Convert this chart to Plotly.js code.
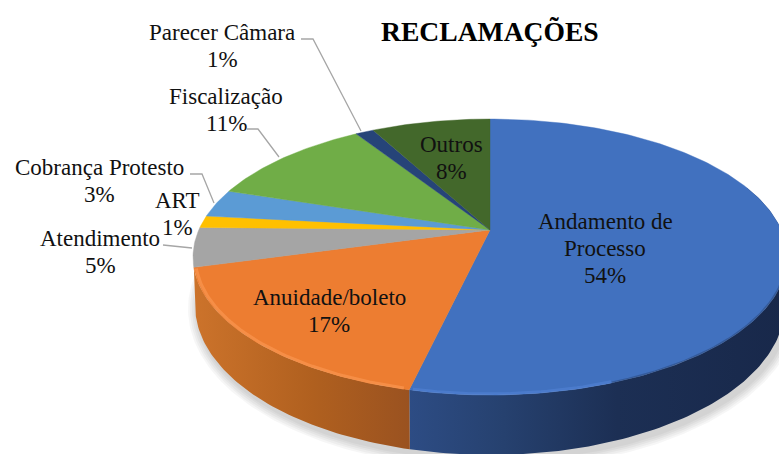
<!DOCTYPE html>
<html><head><meta charset="utf-8">
<script src="https://cdn.plot.ly/plotly-3.0.1.min.js"></script>
<style>html,body{margin:0;padding:0;background:#fff}#c{width:779px;height:454px}</style>
</head><body><div id="c"></div>
<script>
const categories = ["Andamento de|Processo","Anuidade/boleto","Atendimento","ART","Cobrança Protesto","Fiscalização","Parecer Câmara","Outros"];
const values = [53.6,17.1,4.6,1.4,3.3,11,1.2,7.8];
const topColors = ["#4171BF","#ED7D31","#A5A5A5","#FFC000","#5B9BD5","#70AD47","#264478","#43682B"];
const labelX = [605,329,100,177,99,226,222,451];
const labelY = [248,311,252,214,181,110,46,158];

// Perspective geometry of the tilted disc, in pixels of the axes
const G = {cx:490, cy:257, rx:297, ry:138, c:0.196, lowCy:305, lowRx:295, lowRy:150};
const total = values.reduce((a,b)=>a+b,0);
function norm(deg){
  const t=deg*Math.PI/180, u=Math.sin(t), v=Math.cos(t), d=1+G.c*v;
  return [Math.sqrt(1-G.c*G.c)*u/d,(v+G.c)/d];
}
const rim=(deg,s=1)=>{const p=norm(deg);return [G.cx+G.rx*s*p[0],G.cy-G.ry*s*p[1]];};
const low=(deg)=>{const p=norm(deg);return [G.cx+G.lowRx*p[0],G.lowCy-G.lowRy*p[1]];};
const hub=[G.cx,G.cy-G.ry*G.c];
function arc(a,b,f){const o=[];const n=Math.max(2,Math.ceil(Math.abs(b-a)));for(let i=0;i<=n;i++)o.push(f(a+(b-a)*i/n));return o;}
const base={type:'scatter',mode:'lines',hoverinfo:'skip',showlegend:false};
function poly(pts,extra){return Object.assign({},base,{x:pts.map(p=>p[0]),y:pts.map(p=>p[1]),fill:'toself',line:{width:0}},extra);}
const traces=[];
// soft shadow
for(let i=5;i>=1;i--){
  const pts=arc(0,360,d=>{const t=d*Math.PI/180;return [G.cx+3+(G.lowRx+i*2)*Math.sin(t),G.lowCy+4+(G.lowRy+i*2)*Math.cos(t)];});
  traces.push(poly(pts,{fillcolor:'rgba(0,0,0,0.035)'}));
}
// angles
const starts=[];let acc=0;values.forEach(v=>{starts.push(acc/total*360);acc+=v;});
const ends=values.map((v,i)=>starts[i]+v/total*360);
// sides of the front slices, dark towards the right
const sideScale=[
  [[0,'#2d4c84'],[0.25,'#26416f'],[0.55,'#1c2f54'],[1,'#18284a']],
  [[0,'#cc732b'],[0.55,'#b0601f'],[1,'#9a5220']]
];
[0,1].forEach(i=>{
  const a=i===0?70:starts[i], b=ends[i];
  const pts=arc(a,b,rim).concat(arc(b,a,low));
  traces.push(poly(pts,{fillcolor:topColors[i],fillgradient:{type:'horizontal',colorscale:sideScale[i]}}));
});
// top slices
values.forEach((v,i)=>{
  const pts=[hub].concat(arc(starts[i],ends[i],rim)).concat([hub]);
  traces.push(poly(pts,{name:categories[i],fillcolor:topColors[i],line:{width:0.4,color:topColors[i]}}));
});
// rim bevel highlights
function bevel(a,b,color,w,s){const p=arc(a,b,d=>rim(d,s));return Object.assign({},base,{x:p.map(q=>q[0]),y:p.map(q=>q[1]),line:{color,width:w}});}
traces.push(bevel(starts[1]+1,ends[1]-0.5,'rgba(250,150,80,0.7)',3,0.992));
traces.push(bevel(160,starts[1]-0.5,'rgba(90,140,225,0.4)',3,0.992));
traces.push(bevel(95,160,'rgba(24,40,74,0.3)',2,0.998));

const annotations=[];
categories.forEach((c,i)=>{
  const lines=c.split('|').concat([Math.round(values[i])+'%']);
  lines.forEach((t,k)=>annotations.push({
    x:labelX[i],y:labelY[i]+(k-(lines.length-1)/2)*27,xref:'x',yref:'y',xanchor:'center',yanchor:'middle',showarrow:false,
    text:t,font:{family:'"Liberation Serif",serif',size:23,color:'#111'}
  }));
});
annotations.push({x:490,y:31,xref:'x',yref:'y',xanchor:'center',yanchor:'middle',showarrow:false,
  text:'<b>RECLAMAÇÕES</b>',font:{family:'"Liberation Serif",serif',size:27.6,color:'#000'}});
const leader=(d)=>({type:'path',path:d,xref:'x',yref:'y',line:{color:'#a6a6a6',width:1.3}});
const shapes=[
  leader('M301,39 L313,39 L361,131'),
  leader('M247,129 L258,129 L279,157'),
  leader('M190,174 L202,174 L214,203'),
  leader('M163,245 L192,248')
];
Plotly.newPlot('c',traces,{
  width:779,height:454,margin:{l:0,r:0,t:0,b:0},paper_bgcolor:'#fff',plot_bgcolor:'#fff',showlegend:false,
  xaxis:{range:[0,779],visible:false,fixedrange:true},
  yaxis:{range:[454,0],visible:false,fixedrange:true},
  annotations,shapes
},{displayModeBar:false,staticPlot:true});
</script></body></html>
